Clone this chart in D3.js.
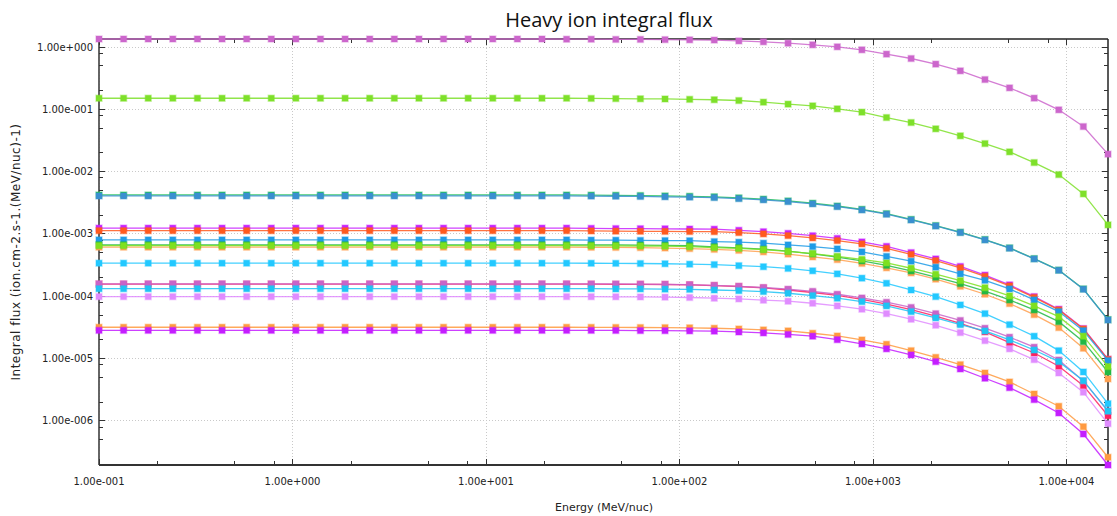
<!DOCTYPE html>
<html>
<head>
<meta charset="utf-8">
<script src="https://cdn.jsdelivr.net/npm/d3@7"></script>
<style>
  html, body { margin: 0; padding: 0; background: #fff; }
  svg { display: block; }
  text { font-family: "DejaVu Sans", "Noto Sans", sans-serif; }
  .title { font-family: "Open Sans", "Noto Sans", sans-serif; }
</style>
</head>
<body>
<svg id="chart" width="1117" height="516"></svg>
<script>
// Energy grid (MeV/nuc)
const energies = [0.1, 0.134, 0.1796, 0.2407, 0.3227, 0.4325, 0.5796, 0.7768, 1.041, 1.395,
  1.87, 2.507, 3.36, 4.503, 6.035, 8.088, 10.84, 14.53, 19.47, 26.1,
  34.98, 46.88, 62.83, 84.21, 112.9, 151.3, 202.7, 271.7, 364.2, 488.1,
  654.2, 876.8, 1175, 1575, 2111, 2829, 3792, 5082, 6811, 9129, 12235, 16398];

// Integral flux per ion species (ion.cm-2.s-1.(MeV/nuc)-1)
const fluxA = [1.32, 1.32, 1.32, 1.32, 1.32, 1.32, 1.32, 1.32, 1.32, 1.32,
  1.32, 1.32, 1.32, 1.32, 1.32, 1.32, 1.32, 1.32, 1.32, 1.31,
  1.31, 1.30, 1.30, 1.29, 1.28, 1.27, 1.23, 1.19, 1.13, 1.065,
  0.989, 0.885, 0.755, 0.642, 0.522, 0.407, 0.295, 0.217, 0.1485, 0.0964, 0.052, 0.01875];
const fluxB = [0.148, 0.148, 0.148, 0.148, 0.148, 0.148, 0.148, 0.148, 0.148, 0.148,
  0.148, 0.148, 0.148, 0.148, 0.148, 0.148, 0.148, 0.148, 0.148, 0.148,
  0.147, 0.146, 0.145, 0.144, 0.142, 0.140, 0.136, 0.128, 0.119, 0.1117,
  0.100, 0.0885, 0.0725, 0.0603, 0.0478, 0.0369, 0.0277, 0.0204, 0.01374, 0.00881, 0.00432, 0.001374];
const fluxC = [4.15e-3, 4.15e-3, 4.15e-3, 4.15e-3, 4.15e-3, 4.15e-3, 4.15e-3, 4.15e-3, 4.15e-3, 4.15e-3,
  4.15e-3, 4.15e-3, 4.15e-3, 4.15e-3, 4.15e-3, 4.15e-3, 4.15e-3, 4.15e-3, 4.15e-3, 4.15e-3,
  4.13e-3, 4.10e-3, 4.06e-3, 4.01e-3, 3.95e-3, 3.88e-3, 3.73e-3, 3.56e-3, 3.33e-3, 3.06e-3,
  2.76e-3, 2.44e-3, 2.08e-3, 1.68e-3, 1.34e-3, 1.05e-3, 8.0e-4, 5.88e-4, 3.95e-4, 2.59e-4, 1.29e-4, 4.15e-5];
const fluxD = [4.0e-3, 4.0e-3, 4.0e-3, 4.0e-3, 4.0e-3, 4.0e-3, 4.0e-3, 4.0e-3, 4.0e-3, 4.0e-3,
  4.0e-3, 4.0e-3, 4.0e-3, 4.0e-3, 4.0e-3, 4.0e-3, 4.0e-3, 4.0e-3, 4.0e-3, 4.0e-3,
  3.98e-3, 3.96e-3, 3.93e-3, 3.88e-3, 3.83e-3, 3.77e-3, 3.63e-3, 3.47e-3, 3.25e-3, 2.99e-3,
  2.70e-3, 2.39e-3, 2.04e-3, 1.65e-3, 1.32e-3, 1.035e-3, 7.89e-4, 5.81e-4, 3.91e-4, 2.57e-4, 1.276e-4, 4.10e-5];
const fluxE = [1.22e-3, 1.22e-3, 1.22e-3, 1.22e-3, 1.22e-3, 1.22e-3, 1.22e-3, 1.22e-3, 1.22e-3, 1.22e-3,
  1.22e-3, 1.22e-3, 1.22e-3, 1.22e-3, 1.22e-3, 1.22e-3, 1.22e-3, 1.22e-3, 1.22e-3, 1.22e-3,
  1.21e-3, 1.20e-3, 1.195e-3, 1.19e-3, 1.18e-3, 1.172e-3, 1.125e-3, 1.069e-3, 1.004e-3, 9.22e-4,
  8.34e-4, 7.33e-4, 6.21e-4, 4.94e-4, 3.91e-4, 2.96e-4, 2.15e-4, 1.50e-4, 9.71e-5, 6.10e-5, 2.98e-5, 9.6e-6];
const fluxF = [1.11e-3, 1.11e-3, 1.11e-3, 1.11e-3, 1.11e-3, 1.11e-3, 1.11e-3, 1.11e-3, 1.11e-3, 1.11e-3,
  1.11e-3, 1.11e-3, 1.11e-3, 1.11e-3, 1.11e-3, 1.11e-3, 1.11e-3, 1.11e-3, 1.11e-3, 1.11e-3,
  1.10e-3, 1.09e-3, 1.085e-3, 1.08e-3, 1.075e-3, 1.07e-3, 1.034e-3, 9.85e-4, 9.25e-4, 8.50e-4,
  7.69e-4, 6.81e-4, 5.77e-4, 4.62e-4, 3.67e-4, 2.81e-4, 2.05e-4, 1.44e-4, 9.42e-5, 5.94e-5, 2.94e-5, 9.53e-6];
const fluxG = [7.89e-4, 7.89e-4, 7.89e-4, 7.89e-4, 7.89e-4, 7.89e-4, 7.89e-4, 7.89e-4, 7.89e-4, 7.89e-4,
  7.89e-4, 7.89e-4, 7.89e-4, 7.89e-4, 7.89e-4, 7.89e-4, 7.89e-4, 7.89e-4, 7.89e-4, 7.89e-4,
  7.83e-4, 7.80e-4, 7.75e-4, 7.70e-4, 7.66e-4, 7.41e-4, 7.25e-4, 6.99e-4, 6.56e-4, 6.16e-4,
  5.66e-4, 5.07e-4, 4.29e-4, 3.59e-4, 2.88e-4, 2.25e-4, 1.77e-4, 1.29e-4, 8.59e-5, 5.58e-5, 2.76e-5, 9.12e-6];
const fluxH = [6.03e-4, 6.03e-4, 6.03e-4, 6.03e-4, 6.03e-4, 6.03e-4, 6.03e-4, 6.03e-4, 6.03e-4, 6.03e-4,
  6.03e-4, 6.03e-4, 6.03e-4, 6.03e-4, 6.03e-4, 6.03e-4, 6.03e-4, 6.03e-4, 6.03e-4, 6.03e-4,
  6.00e-4, 5.97e-4, 5.92e-4, 5.84e-4, 5.72e-4, 5.56e-4, 5.36e-4, 5.07e-4, 4.67e-4, 4.21e-4,
  3.81e-4, 3.31e-4, 2.81e-4, 2.33e-4, 1.85e-4, 1.42e-4, 1.06e-4, 7.50e-5, 4.99e-5, 3.09e-5, 1.44e-5, 4.64e-6];
const fluxI = [6.59e-4, 6.59e-4, 6.59e-4, 6.59e-4, 6.59e-4, 6.59e-4, 6.59e-4, 6.59e-4, 6.59e-4, 6.59e-4,
  6.59e-4, 6.59e-4, 6.59e-4, 6.59e-4, 6.59e-4, 6.59e-4, 6.59e-4, 6.59e-4, 6.59e-4, 6.59e-4,
  6.57e-4, 6.55e-4, 6.52e-4, 6.47e-4, 6.36e-4, 6.12e-4, 5.90e-4, 5.60e-4, 5.20e-4, 4.71e-4,
  4.17e-4, 3.63e-4, 3.08e-4, 2.51e-4, 1.99e-4, 1.57e-4, 1.19e-4, 8.59e-5, 5.94e-5, 3.85e-5, 1.84e-5, 6.0e-6];
const fluxJ = [6.39e-4, 6.39e-4, 6.39e-4, 6.39e-4, 6.39e-4, 6.39e-4, 6.39e-4, 6.39e-4, 6.39e-4, 6.39e-4,
  6.39e-4, 6.39e-4, 6.39e-4, 6.39e-4, 6.39e-4, 6.39e-4, 6.39e-4, 6.39e-4, 6.39e-4, 6.39e-4,
  6.35e-4, 6.33e-4, 6.30e-4, 6.26e-4, 6.14e-4, 5.94e-4, 5.77e-4, 5.50e-4, 5.16e-4, 4.76e-4,
  4.29e-4, 3.84e-4, 3.37e-4, 2.77e-4, 2.22e-4, 1.75e-4, 1.35e-4, 9.96e-5, 6.89e-5, 4.63e-5, 2.25e-5, 7.31e-6];
const fluxK = [3.34e-4, 3.34e-4, 3.34e-4, 3.34e-4, 3.34e-4, 3.34e-4, 3.34e-4, 3.34e-4, 3.34e-4, 3.34e-4,
  3.34e-4, 3.34e-4, 3.34e-4, 3.34e-4, 3.34e-4, 3.34e-4, 3.34e-4, 3.34e-4, 3.34e-4, 3.34e-4,
  3.33e-4, 3.32e-4, 3.30e-4, 3.27e-4, 3.22e-4, 3.17e-4, 3.05e-4, 2.93e-4, 2.75e-4, 2.52e-4,
  2.25e-4, 1.92e-4, 1.59e-4, 1.24e-4, 9.71e-5, 7.14e-5, 5.18e-5, 3.45e-5, 2.25e-5, 1.32e-5, 6.0e-6, 1.86e-6];
const fluxL = [1.54e-4, 1.54e-4, 1.54e-4, 1.54e-4, 1.54e-4, 1.54e-4, 1.54e-4, 1.54e-4, 1.54e-4, 1.54e-4,
  1.54e-4, 1.54e-4, 1.54e-4, 1.54e-4, 1.54e-4, 1.54e-4, 1.54e-4, 1.54e-4, 1.54e-4, 1.54e-4,
  1.54e-4, 1.53e-4, 1.53e-4, 1.52e-4, 1.50e-4, 1.46e-4, 1.41e-4, 1.34e-4, 1.24e-4, 1.13e-4,
  1.015e-4, 8.75e-5, 7.36e-5, 6.0e-5, 4.71e-5, 3.61e-5, 2.64e-5, 1.77e-5, 1.21e-5, 7.41e-6, 3.62e-6, 1.19e-6];
const fluxM = [1.56e-4, 1.56e-4, 1.56e-4, 1.56e-4, 1.56e-4, 1.56e-4, 1.56e-4, 1.56e-4, 1.56e-4, 1.56e-4,
  1.56e-4, 1.56e-4, 1.56e-4, 1.56e-4, 1.56e-4, 1.56e-4, 1.56e-4, 1.56e-4, 1.56e-4, 1.56e-4,
  1.55e-4, 1.55e-4, 1.54e-4, 1.53e-4, 1.51e-4, 1.47e-4, 1.42e-4, 1.36e-4, 1.28e-4, 1.18e-4,
  1.06e-4, 9.25e-5, 7.89e-5, 6.52e-5, 5.18e-5, 4.03e-5, 3.02e-5, 2.17e-5, 1.50e-5, 9.35e-6, 4.31e-6, 1.42e-6];
const fluxN = [1.30e-4, 1.30e-4, 1.30e-4, 1.30e-4, 1.30e-4, 1.30e-4, 1.30e-4, 1.30e-4, 1.30e-4, 1.30e-4,
  1.30e-4, 1.30e-4, 1.30e-4, 1.30e-4, 1.30e-4, 1.30e-4, 1.30e-4, 1.30e-4, 1.30e-4, 1.30e-4,
  1.30e-4, 1.29e-4, 1.29e-4, 1.28e-4, 1.27e-4, 1.24e-4, 1.21e-4, 1.17e-4, 1.10e-4, 1.007e-4,
  9.15e-5, 8.07e-5, 6.89e-5, 5.58e-5, 4.42e-5, 3.45e-5, 2.73e-5, 1.96e-5, 1.35e-5, 8.79e-6, 4.35e-6, 1.41e-6];
const fluxO = [9.7e-5, 9.7e-5, 9.7e-5, 9.7e-5, 9.7e-5, 9.7e-5, 9.7e-5, 9.7e-5, 9.7e-5, 9.7e-5,
  9.7e-5, 9.7e-5, 9.7e-5, 9.7e-5, 9.7e-5, 9.7e-5, 9.7e-5, 9.7e-5, 9.7e-5, 9.7e-5,
  9.68e-5, 9.65e-5, 9.6e-5, 9.52e-5, 9.4e-5, 9.15e-5, 8.92e-5, 8.50e-5, 8.19e-5, 7.60e-5,
  6.89e-5, 6.10e-5, 5.18e-5, 4.21e-5, 3.37e-5, 2.57e-5, 1.91e-5, 1.41e-5, 9.46e-6, 5.78e-6, 2.84e-6, 8.89e-7];
const fluxP = [3.13e-5, 3.13e-5, 3.13e-5, 3.13e-5, 3.13e-5, 3.13e-5, 3.13e-5, 3.13e-5, 3.13e-5, 3.13e-5,
  3.13e-5, 3.13e-5, 3.13e-5, 3.13e-5, 3.13e-5, 3.13e-5, 3.13e-5, 3.13e-5, 3.13e-5, 3.13e-5,
  3.12e-5, 3.11e-5, 3.10e-5, 3.09e-5, 3.07e-5, 3.02e-5, 2.94e-5, 2.84e-5, 2.74e-5, 2.51e-5,
  2.27e-5, 1.96e-5, 1.67e-5, 1.32e-5, 1.03e-5, 7.87e-6, 5.78e-6, 4.15e-6, 2.66e-6, 1.69e-6, 7.95e-7, 2.57e-7];
const fluxQ = [2.79e-5, 2.79e-5, 2.79e-5, 2.79e-5, 2.79e-5, 2.79e-5, 2.79e-5, 2.79e-5, 2.79e-5, 2.79e-5,
  2.79e-5, 2.79e-5, 2.79e-5, 2.79e-5, 2.79e-5, 2.79e-5, 2.79e-5, 2.79e-5, 2.79e-5, 2.79e-5,
  2.79e-5, 2.78e-5, 2.77e-5, 2.76e-5, 2.74e-5, 2.71e-5, 2.63e-5, 2.54e-5, 2.40e-5, 2.25e-5,
  1.98e-5, 1.69e-5, 1.41e-5, 1.125e-5, 8.79e-6, 6.71e-6, 4.76e-6, 3.36e-6, 2.16e-6, 1.32e-6, 6.07e-7, 1.93e-7];

// Drawing order (later ones sit on top) and colours
const seriesList = [
  { values: fluxA, color: "#cc66cc" },
  { values: fluxB, color: "#7ee02a" },
  { values: fluxC, color: "#22c05a" },
  { values: fluxD, color: "#3a8fd0" },
  { values: fluxE, color: "#c822ff" },
  { values: fluxF, color: "#ff5a1e" },
  { values: fluxG, color: "#1e9be6" },
  { values: fluxH, color: "#ffa050" },
  { values: fluxI, color: "#22b844" },
  { values: fluxJ, color: "#7ee020" },
  { values: fluxK, color: "#22c8ff" },
  { values: fluxL, color: "#ff2060" },
  { values: fluxM, color: "#c864c8" },
  { values: fluxN, color: "#1ec4f4" },
  { values: fluxO, color: "#e08cff" },
  { values: fluxP, color: "#ff9a40" },
  { values: fluxQ, color: "#c41eff" }
];

const titleText = "Heavy ion integral flux";
const xTitle = "Energy (MeV/nuc)";
const yTitle = "Integral flux (ion.cm-2.s-1.(MeV/nuc)-1)";

const plot = { left: 99, right: 1108, top: 39, bottom: 465 };

const svg = d3.select("#chart");

const allVals = seriesList.flatMap(s => s.values);
const x = d3.scaleLog().domain(d3.extent(energies)).range([plot.left, plot.right]);
const y = d3.scaleLog().domain(d3.extent(allVals)).range([plot.bottom, plot.top]);

function sci(d) {
  const e = Math.round(Math.log10(d));
  const m = d / Math.pow(10, e);
  return m.toFixed(2) + "e" + (e < 0 ? "-" : "+") + String(Math.abs(e)).padStart(3, "0");
}

function decadeTicks(domain) {
  const lo = Math.ceil(Math.log10(domain[0]) - 1e-9), hi = Math.floor(Math.log10(domain[1]) + 1e-9);
  const out = [];
  for (let e = lo; e <= hi; e++) out.push(Math.pow(10, e));
  return out;
}
function minorTicks(domain) {
  const out = [];
  const lo = Math.floor(Math.log10(domain[0])) - 1, hi = Math.ceil(Math.log10(domain[1]));
  for (let e = lo; e <= hi; e++) {
    [2, 5, 8].forEach(m => {
      const v = m * Math.pow(10, e);
      if (v >= domain[0] && v <= domain[1]) out.push(v);
    });
  }
  return out;
}

const xMajor = decadeTicks(x.domain());
const yMajor = decadeTicks(y.domain());
const xMinor = minorTicks(x.domain());
const yMinor = minorTicks(y.domain());

// Dotted grid at the decades
const grid = svg.append("g").attr("stroke", "#c9c9c9").attr("stroke-width", 1).attr("stroke-dasharray", "1,2");
grid.selectAll(".gx").data(xMajor).join("line")
  .attr("x1", d => Math.round(x(d)) + 0.5).attr("x2", d => Math.round(x(d)) + 0.5)
  .attr("y1", plot.top).attr("y2", plot.bottom);
grid.selectAll(".gy").data(yMajor).join("line")
  .attr("x1", plot.left).attr("x2", plot.right)
  .attr("y1", d => Math.round(y(d)) + 0.5).attr("y2", d => Math.round(y(d)) + 0.5);

// Frame: bottom and left axes darker, top and right borders
const frame = svg.append("g").attr("fill", "none");
frame.append("line").attr("x1", plot.left).attr("x2", plot.right).attr("y1", plot.top).attr("y2", plot.top)
  .attr("stroke", "#222").attr("stroke-width", 1.5);
frame.append("line").attr("x1", plot.right).attr("x2", plot.right).attr("y1", plot.top).attr("y2", plot.bottom)
  .attr("stroke", "#222").attr("stroke-width", 1.5);
frame.append("line").attr("x1", plot.left).attr("x2", plot.right).attr("y1", plot.bottom).attr("y2", plot.bottom)
  .attr("stroke", "#333").attr("stroke-width", 1.8);
frame.append("line").attr("x1", plot.left).attr("x2", plot.left).attr("y1", plot.top).attr("y2", plot.bottom)
  .attr("stroke", "#555").attr("stroke-width", 1.8);

// Inward ticks on all four sides
const ticks = svg.append("g").attr("stroke", "#333").attr("stroke-width", 1);
function vTicks(vals, len, yEdge, dir) {
  ticks.selectAll(null).data(vals).join("line")
    .attr("x1", d => Math.round(x(d)) + 0.5).attr("x2", d => Math.round(x(d)) + 0.5)
    .attr("y1", yEdge).attr("y2", yEdge + dir * len);
}
function hTicks(vals, len, xEdge, dir) {
  ticks.selectAll(null).data(vals).join("line")
    .attr("y1", d => Math.round(y(d)) + 0.5).attr("y2", d => Math.round(y(d)) + 0.5)
    .attr("x1", xEdge).attr("x2", xEdge + dir * len);
}
vTicks(xMajor, 6, plot.bottom, -1); vTicks(xMinor, 4, plot.bottom, -1);
vTicks(xMajor, 6, plot.top, 1); vTicks(xMinor, 4, plot.top, 1);
hTicks(yMajor, 6, plot.left, 1); hTicks(yMinor, 4, plot.left, 1);
hTicks(yMajor, 6, plot.right, -1); hTicks(yMinor, 4, plot.right, -1);

// Tick labels
svg.append("g").selectAll("text").data(xMajor).join("text")
  .attr("x", d => x(d)).attr("y", 485)
  .attr("text-anchor", "middle").attr("font-size", 10).attr("fill", "#222")
  .text(sci);
svg.append("g").selectAll("text").data(yMajor).join("text")
  .attr("x", 93).attr("y", d => y(d) + 4)
  .attr("text-anchor", "end").attr("font-size", 10).attr("fill", "#222")
  .text(sci);

// Titles
svg.append("text").attr("class", "title").attr("x", 609).attr("y", 27).attr("text-anchor", "middle")
  .attr("font-size", 20).attr("fill", "#111").text(titleText);
svg.append("text").attr("x", 604).attr("y", 511).attr("text-anchor", "middle")
  .attr("font-size", 11).attr("fill", "#222").text(xTitle);
svg.append("text").attr("transform", "translate(20,252) rotate(-90)").attr("text-anchor", "middle")
  .attr("font-size", 12).attr("letter-spacing", 0.5).attr("fill", "#222").text(yTitle);

// Series: line first, then square markers
const line = d3.line().x((d, i) => x(energies[i])).y(d => y(d));
const seriesG = svg.append("g");
seriesList.forEach(s => {
  const g = seriesG.append("g");
  g.append("path").datum(s.values).attr("d", line)
    .attr("fill", "none").attr("stroke", s.color).attr("stroke-width", 1.3).attr("stroke-opacity", 0.85);
  g.selectAll("rect").data(s.values).join("rect")
    .attr("x", (d, i) => x(energies[i]) - 3.75).attr("y", d => y(d) - 3.75)
    .attr("width", 7.5).attr("height", 7.5)
    .attr("fill", s.color).attr("fill-opacity", 0.35);
  g.selectAll("rect.core").data(s.values).join("rect").attr("class", "core")
    .attr("x", (d, i) => x(energies[i]) - 3).attr("y", d => y(d) - 3)
    .attr("width", 6).attr("height", 6)
    .attr("fill", s.color);
});
</script>
</body>
</html>
